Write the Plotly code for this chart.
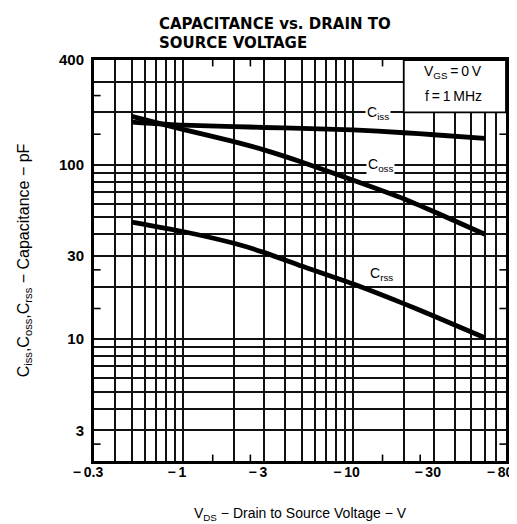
import numpy as np
import plotly.graph_objects as go

# Drain-to-source voltage (V) and capacitances (pF)
vds = [-0.5, -1, -2, -3, -5, -10, -20, -30, -60]
ciss = [176, 169, 166, 164, 162, 159, 153, 149, 142]
coss = [190, 160, 136, 122, 104, 82, 64, 54, 40]
crss = [47, 41.5, 35.5, 31.5, 26.3, 20.8, 16, 13.6, 10.2]

x_tick_vals = [0.3, 1, 3, 10, 30, 80]
x_tick_text = ["\u2212\u20090.3", "\u2212\u20091", "\u2212\u20093", "\u2212\u200910", "\u2212\u200930", "\u2212\u200980"]
x_grid_vals = [0.4, 0.5, 0.6, 0.7, 0.8, 0.9, 2, 4, 5, 6, 7, 8, 9,
               20, 40, 50, 60, 70]
x_marks = [1.5, 2.5, 15, 25]

y_tick_vals = [3, 10, 30, 100, 400]
y_tick_text = ["3", "10", "30", "100", "400"]
y_grid_vals = [4, 5, 6, 7, 8, 9, 20, 40, 50, 60, 70, 80, 90, 200, 300]
y_marks = [2.5, 15, 25, 150, 250]

x_abs = np.abs(np.array(vds, dtype=float))

fig = go.Figure()
for name, vals in [("Ciss", ciss), ("Coss", coss), ("Crss", crss)]:
    fig.add_trace(go.Scatter(x=x_abs, y=vals, mode="lines", name=name,
                             line=dict(color="black", width=4.8, shape="spline", smoothing=0.5),
                             showlegend=False, hoverinfo="skip"))

font_main = "Liberation Sans, Arial, sans-serif"
GRID = "#111"
GW = 1.8

fig.update_xaxes(type="log", range=[np.log10(0.3), np.log10(80)],
                 tickvals=x_tick_vals, ticktext=x_tick_text, ticks="", showgrid=True,
                 gridcolor=GRID, gridwidth=GW,
                 showline=True, linecolor="black", linewidth=3, mirror=True,
                 tickfont=dict(family=font_main, size=14, color="black", weight="bold"),
                 ticklabelshift=-6, ticklabelstandoff=-4,
                 minor=dict(tickvals=x_grid_vals, ticks="", showgrid=True,
                            gridcolor=GRID, gridwidth=GW),
                 title=dict(text="V<sub>DS</sub> \u2212 Drain to Source Voltage \u2212 V",
                            font=dict(family=font_main, size=14, color="black"), standoff=30),
                 zeroline=False)
fig.update_yaxes(type="log", range=[np.log10(2), np.log10(400)],
                 tickvals=y_tick_vals, ticktext=y_tick_text, ticks="", showgrid=True,
                 gridcolor=GRID, gridwidth=GW,
                 showline=True, linecolor="black", linewidth=3, mirror=True,
                 tickfont=dict(family=font_main, size=15, color="black", weight="bold"),
                 ticklabelstandoff=4,
                 minor=dict(tickvals=y_grid_vals, ticks="", showgrid=True,
                            gridcolor=GRID, gridwidth=GW),
                 title=dict(text="C<sub>iss</sub>,C<sub>oss</sub>,C<sub>rss</sub> \u2212 Capacitance \u2212 pF",
                            font=dict(family=font_main, size=16, color="black"), standoff=26),
                 zeroline=False)

# short half-decade marks on all four sides
for xv in x_marks:
    for y0, y1 in [(0, 0.016), (1, 0.984)]:
        fig.add_shape(type="line", xref="x", yref="paper", x0=xv, x1=xv, y0=y0, y1=y1,
                      line=dict(color="black", width=1.6))
for yv in y_marks:
    for x0, x1 in [(0, 0.016), (1, 0.984)]:
        fig.add_shape(type="line", xref="paper", yref="y", x0=x0, x1=x1, y0=yv, y1=yv,
                      line=dict(color="black", width=1.6))

# White condition box in upper-right cell
fig.add_shape(type="rect", xref="x", yref="y", x0=20, x1=80, y0=200, y1=400,
              fillcolor="white", line=dict(color="black", width=GW), layer="above")

ann_font = dict(family=font_main, size=14, color="black")
fig.add_annotation(x=np.log10(39), y=np.log10(340), text="V<sub>GS</sub>\u2009=\u20090\u2009V",
                   showarrow=False, font=ann_font)
fig.add_annotation(x=np.log10(39), y=np.log10(250), text="f\u2009=\u20091\u2009MHz",
                   showarrow=False, font=ann_font)

for txt, xval, yval in [("C<sub>iss</sub>", 14.2, 185), ("C<sub>oss</sub>", 14.6, 94),
                        ("C<sub>rss</sub>", 14.8, 22.2)]:
    fig.add_annotation(x=np.log10(xval), y=np.log10(yval), text=txt, showarrow=False,
                       font=ann_font, bgcolor="white", borderpad=1, yshift=5)

title_font = dict(family="DejaVu Sans, sans-serif", size=15, color="black", weight="bold")
fig.add_annotation(xref="paper", yref="paper", x=(150 - 86) / 419, y=1 + (52 - 16) / 401,
                   xanchor="left", yanchor="middle", showarrow=False,
                   text="CAPACITANCE vs. DRAIN TO", font=title_font)
fig.add_annotation(xref="paper", yref="paper", x=(150 - 86) / 419, y=1 + (52 - 35) / 401,
                   xanchor="left", yanchor="middle", showarrow=False,
                   text="SOURCE VOLTAGE", font=title_font)

fig.update_layout(
    width=517, height=524,
    margin=dict(l=86, r=12, t=52, b=71),
    paper_bgcolor="white", plot_bgcolor="white",
)

fig.write_html("out.html")
